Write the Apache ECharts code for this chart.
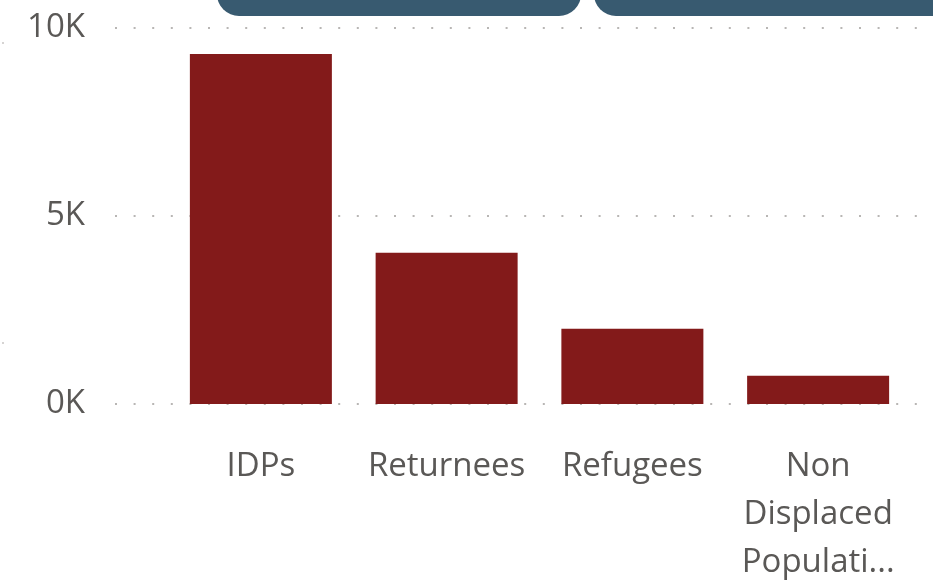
<!DOCTYPE html>
<html>
<head>
<meta charset="utf-8">
<script src="https://cdn.jsdelivr.net/npm/echarts@6/dist/echarts.min.js"></script>
<style>
  html,body{margin:0;padding:0;background:#fff;}
  #chart{width:933px;height:580px;}
</style>
</head>
<body>
<div id="chart"></div>
<script>
// data
const categories = ['IDPs', 'Returnees', 'Refugees', 'Non Displaced Population']
const populationValues = [9310, 4020, 2000, 750]
const yTicks = [0, 5000, 10000]   // shown as 0K 5K 10K

const textColor = '#5a5856'
const barColor = '#831a1a'
const fontFamily = '"Open Sans", "Noto Sans", sans-serif'

const chart = echarts.init(document.getElementById('chart'))

const option = {
  animation: false,
  grid: [
    {left: 168, right: 22, top: 28, bottom: 176, outerBoundsMode: 'none'},   // bars
    {left: 115, right: 0, top: 28, bottom: 176, outerBoundsMode: 'none'}     // gridlines + y labels
  ],
  xAxis: [
    {
      type: 'category',
      gridIndex: 0,
      data: categories,
      axisLine: {show: false},
      axisTick: {show: false},
      axisLabel: {
        color: textColor,
        fontFamily: fontFamily,
        fontSize: 33,
        lineHeight: 48,
        margin: 39,
        interval: 0,
        formatter: v => v === 'Non Displaced Population' ? 'Non\nDisplaced\nPopulati...' : v
      }
    },
    {type: 'category', gridIndex: 1, data: categories, show: false}
  ],
  yAxis: [
    {type: 'value', gridIndex: 0, min: yTicks[0], max: yTicks[2], interval: 5000, show: false},
    {
      type: 'value',
      gridIndex: 1,
      min: yTicks[0],
      max: yTicks[2],
      interval: 5000,
      axisLine: {show: false},
      axisTick: {show: false},
      axisLabel: {
        color: textColor,
        fontFamily: fontFamily,
        fontSize: 33,
        margin: 30,
        formatter: v => (v / 1000) + 'K'
      },
      splitLine: {
        show: true,
        lineStyle: {color: '#b8b6b4', width: 2, type: [2, 16.6]}
      }
    }
  ],
  series: [
    {
      type: 'bar',
      xAxisIndex: 0,
      yAxisIndex: 0,
      data: populationValues,
      barWidth: 142,
      itemStyle: {color: barColor},
      z: 3
    }
  ],
  graphic: [
    // cut-off slicer pills at the top
    {type: 'rect', left: 217, top: -40, shape: {width: 364, height: 56, r: 22}, style: {fill: '#385a70'}},
    {type: 'rect', left: 594, top: -40, shape: {width: 400, height: 56, r: 22}, style: {fill: '#385a70'}},
    {type: 'circle', left: 2, top: 42, shape: {r: 1}, style: {fill: '#c8c6c4'}},
    {type: 'circle', left: 2, top: 342, shape: {r: 1}, style: {fill: '#c8c6c4'}}
  ]
}

chart.setOption(option)
</script>
</body>
</html>
